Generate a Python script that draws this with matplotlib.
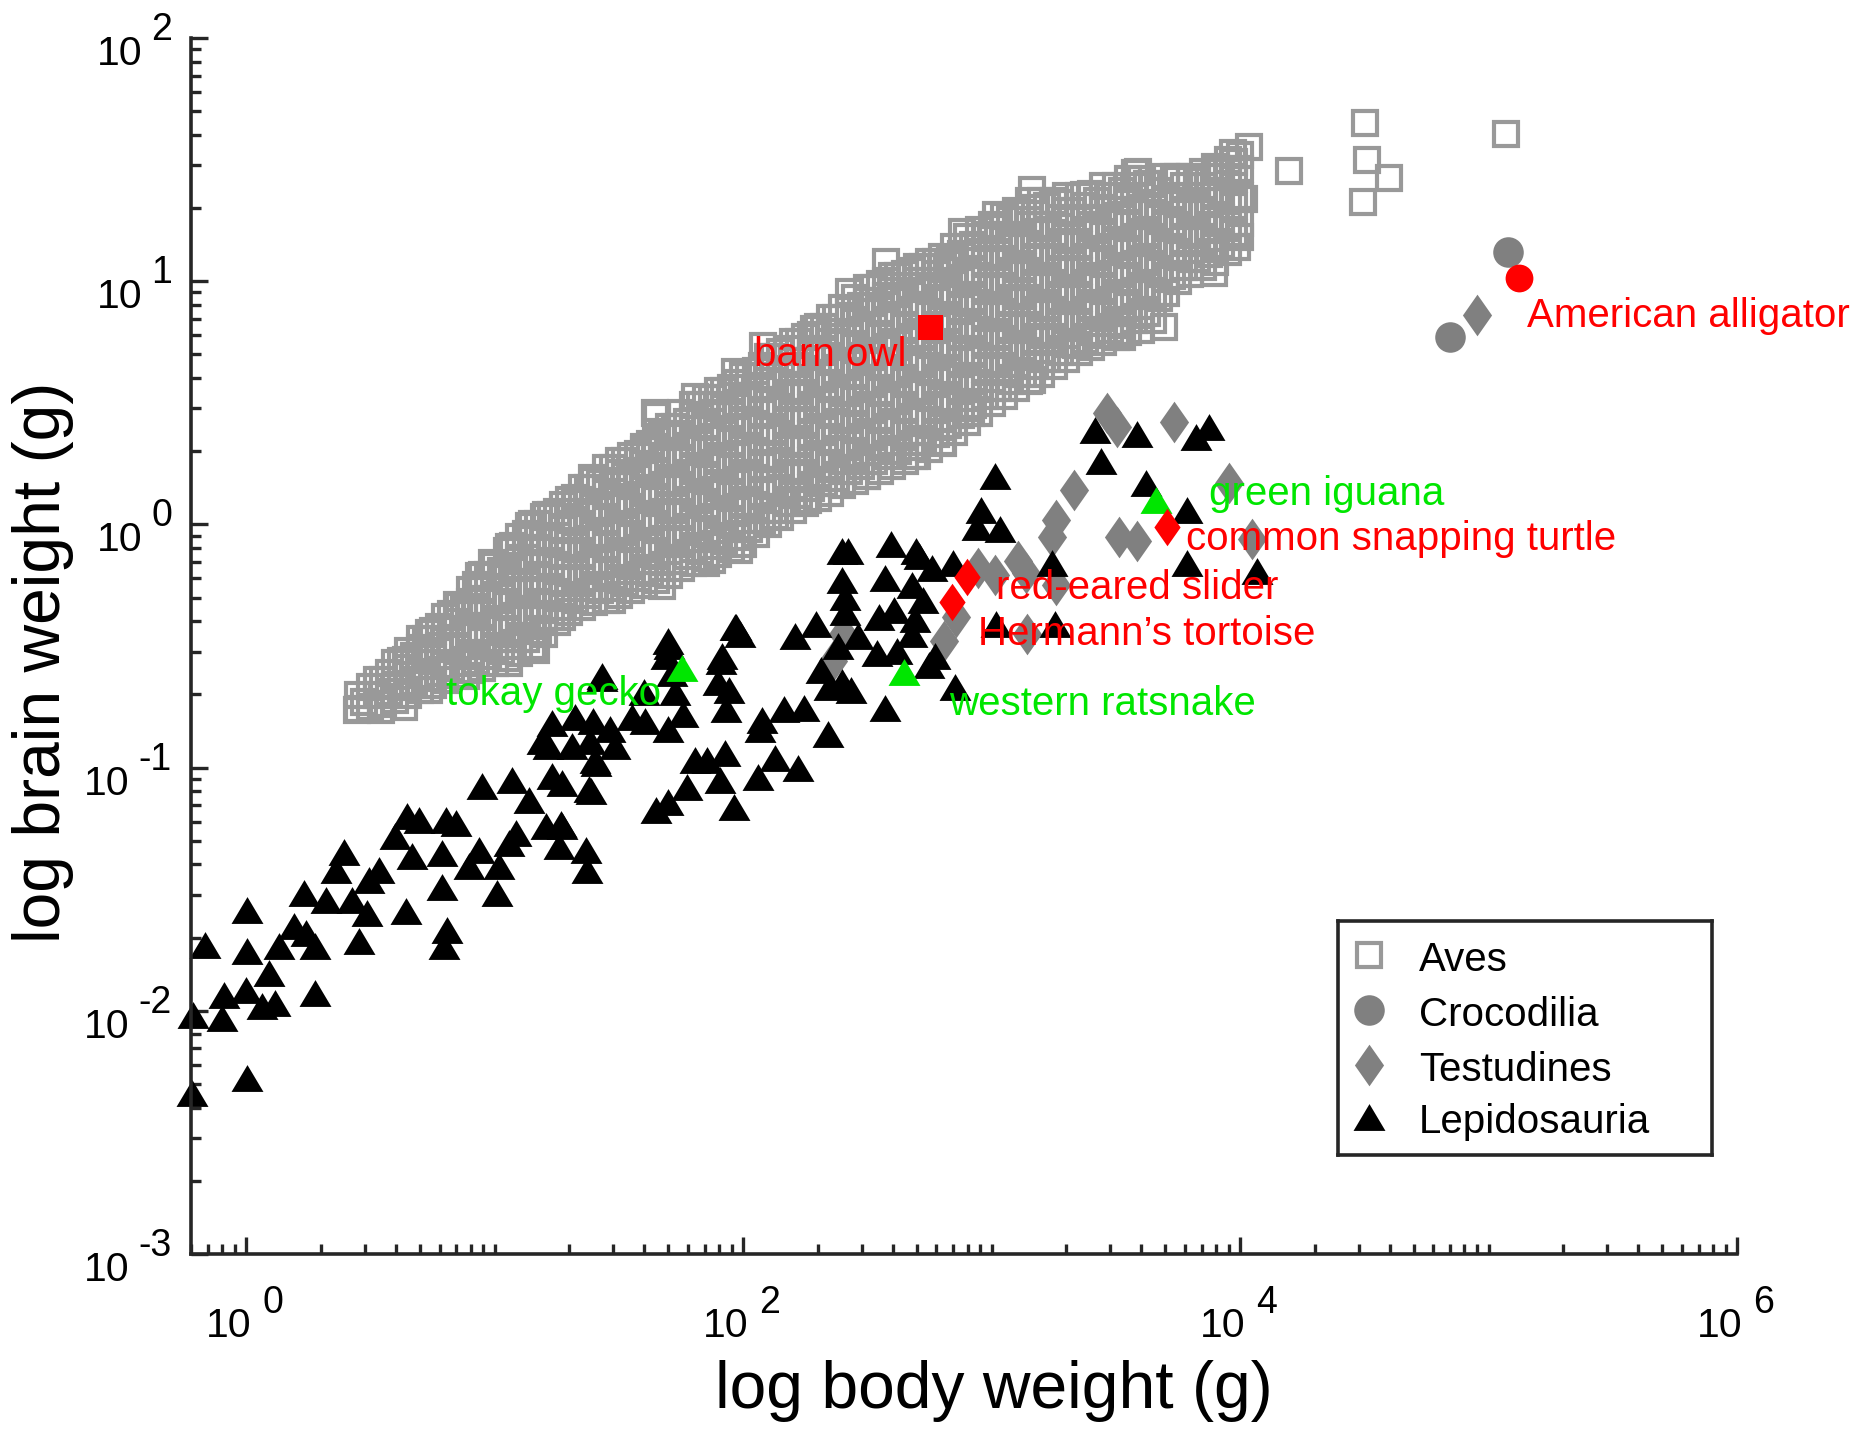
import matplotlib
matplotlib.use("Agg")
import matplotlib.pyplot as plt
import numpy as np
from matplotlib.path import Path
from matplotlib.ticker import FixedLocator, NullFormatter

plt.rcParams["font.family"] = ["Liberation Sans", "DejaVu Sans"]

# All values are log10 of grams.
# Aves: dense band, one entry per body-weight column -> brain weights in that column
aves_band = [
    (0.45, [-0.76, -0.70]), (0.50, [-0.75, -0.67]), (0.55, [-0.74, -0.64]),
    (0.60, [-0.72, -0.66, -0.57]), (0.65, [-0.70, -0.59, -0.52]),
    (0.70, [-0.68, -0.62, -0.51, -0.47]), (0.75, [-0.66, -0.55, -0.44]),
    (0.80, [-0.64, -0.58, -0.47, -0.38]), (0.85, [-0.62, -0.51, -0.40, -0.33]),
    (0.90, [-0.60, -0.54, -0.43, -0.32, -0.27]), (0.95, [-0.59, -0.48, -0.37, -0.26, -0.21]),
    (1.00, [-0.57, -0.51, -0.40, -0.29, -0.17]), (1.05, [-0.55, -0.44, -0.33, -0.22, -0.11]),
    (1.10, [-0.53, -0.47, -0.36, -0.25, -0.14, -0.05]), (1.15, [-0.50, -0.39, -0.28, -0.17, -0.06, 0.00]),
    (1.20, [-0.45, -0.39, -0.28, -0.17, -0.06, 0.03]), (1.25, [-0.40, -0.29, -0.18, -0.07, 0.05]),
    (1.30, [-0.36, -0.30, -0.19, -0.08, 0.03, 0.10]), (1.35, [-0.34, -0.23, -0.12, -0.01, 0.10, 0.15]),
    (1.40, [-0.32, -0.26, -0.15, -0.04, 0.07, 0.18]), (1.45, [-0.31, -0.20, -0.09, 0.02, 0.13, 0.23]),
    (1.50, [-0.29, -0.23, -0.12, -0.01, 0.10, 0.21, 0.26]), (1.55, [-0.27, -0.16, -0.05, 0.06, 0.17, 0.28]),
    (1.60, [-0.25, -0.19, -0.08, 0.03, 0.14, 0.25, 0.32]), (1.65, [-0.23, -0.12, -0.01, 0.10, 0.21, 0.32, 0.38]),
    (1.70, [-0.21, -0.15, -0.04, 0.07, 0.18, 0.29, 0.40]), (1.75, [-0.18, -0.07, 0.04, 0.15, 0.26, 0.37, 0.46]),
    (1.80, [-0.16, -0.10, 0.01, 0.12, 0.23, 0.34, 0.45, 0.49]), (1.85, [-0.14, -0.03, 0.08, 0.19, 0.30, 0.41, 0.52]),
    (1.90, [-0.12, -0.06, 0.05, 0.16, 0.27, 0.38, 0.49, 0.55]), (1.95, [-0.10, 0.01, 0.12, 0.23, 0.34, 0.45, 0.56]),
    (2.00, [-0.08, -0.02, 0.09, 0.20, 0.31, 0.42, 0.53, 0.61]), (2.05, [-0.04, 0.07, 0.18, 0.29, 0.40, 0.51, 0.63]),
    (2.10, [0.00, 0.06, 0.17, 0.28, 0.39, 0.50, 0.61, 0.69]), (2.15, [0.03, 0.14, 0.25, 0.36, 0.47, 0.58, 0.71]),
    (2.20, [0.06, 0.12, 0.23, 0.34, 0.45, 0.56, 0.67, 0.75]), (2.25, [0.09, 0.20, 0.31, 0.42, 0.53, 0.64, 0.77]),
    (2.30, [0.11, 0.17, 0.28, 0.39, 0.50, 0.61, 0.72, 0.81]), (2.35, [0.13, 0.24, 0.35, 0.46, 0.57, 0.68, 0.79, 0.85]),
    (2.40, [0.16, 0.22, 0.33, 0.44, 0.55, 0.66, 0.77, 0.89]), (2.45, [0.18, 0.29, 0.40, 0.51, 0.62, 0.73, 0.84, 0.93]),
    (2.50, [0.20, 0.26, 0.37, 0.48, 0.59, 0.70, 0.81, 0.92, 0.97]), (2.55, [0.22, 0.33, 0.44, 0.55, 0.66, 0.77, 0.88, 0.99]),
    (2.60, [0.24, 0.30, 0.41, 0.52, 0.63, 0.74, 0.85, 0.96, 1.02]), (2.65, [0.26, 0.37, 0.48, 0.59, 0.70, 0.81, 0.92, 1.03]),
    (2.70, [0.28, 0.34, 0.45, 0.56, 0.67, 0.78, 0.89, 1.00, 1.06]), (2.75, [0.31, 0.42, 0.53, 0.64, 0.75, 0.86, 0.97, 1.08]),
    (2.80, [0.34, 0.40, 0.51, 0.62, 0.73, 0.84, 0.95, 1.06, 1.10]), (2.85, [0.38, 0.49, 0.60, 0.71, 0.82, 0.93, 1.04, 1.14]),
    (2.90, [0.42, 0.48, 0.59, 0.70, 0.81, 0.92, 1.03, 1.14, 1.18]), (2.95, [0.46, 0.57, 0.68, 0.79, 0.90, 1.01, 1.12, 1.21]),
    (3.00, [0.50, 0.56, 0.67, 0.78, 0.89, 1.00, 1.11, 1.23]), (3.05, [0.53, 0.64, 0.75, 0.86, 0.97, 1.08, 1.19, 1.27]),
    (3.10, [0.56, 0.62, 0.73, 0.84, 0.95, 1.06, 1.17, 1.29]), (3.15, [0.59, 0.70, 0.81, 0.92, 1.03, 1.14, 1.25, 1.33]),
    (3.20, [0.62, 0.68, 0.79, 0.90, 1.01, 1.12, 1.23, 1.33]), (3.25, [0.65, 0.76, 0.87, 0.98, 1.09, 1.20, 1.33]),
    (3.30, [0.68, 0.74, 0.85, 0.96, 1.07, 1.18, 1.29, 1.35]), (3.35, [0.71, 0.82, 0.93, 1.04, 1.15, 1.26, 1.35]),
    (3.40, [0.73, 0.79, 0.90, 1.01, 1.12, 1.23, 1.36]), (3.45, [0.75, 0.86, 0.97, 1.08, 1.19, 1.30, 1.39]),
    (3.50, [0.77, 0.83, 0.94, 1.05, 1.16, 1.27, 1.39]), (3.55, [0.79, 0.90, 1.01, 1.12, 1.23, 1.34, 1.42]),
    (3.60, [0.80, 0.86, 0.97, 1.08, 1.19, 1.30, 1.42]), (3.65, [0.84, 0.95, 1.06, 1.17, 1.28, 1.40]),
    (3.70, [0.95, 1.01, 1.12, 1.23, 1.34, 1.43]), (3.75, [1.00, 1.11, 1.22, 1.33, 1.43]),
    (3.80, [1.03, 1.09, 1.20, 1.31, 1.43]), (3.85, [1.06, 1.17, 1.28, 1.39, 1.45]),
    (3.90, [1.08, 1.14, 1.25, 1.36, 1.47]), (3.95, [1.12, 1.23, 1.34, 1.45, 1.50]),
    (4.00, [1.18, 1.24, 1.35, 1.46, 1.52]),
]

# Aves: the squares lying in between the columns above
aves_band_between = [
    (0.475, [-0.73]), (0.525, [-0.70, -0.64]), (0.575, [-0.69, -0.61]),
    (0.625, [-0.67, -0.56]), (0.675, [-0.65, -0.54]), (0.725, [-0.63, -0.52, -0.47]),
    (0.775, [-0.61, -0.50, -0.42]), (0.825, [-0.59, -0.48, -0.37]), (0.875, [-0.57, -0.46, -0.35]),
    (0.925, [-0.56, -0.45, -0.34, -0.25]), (0.975, [-0.54, -0.43, -0.32, -0.21]),
    (1.025, [-0.52, -0.41, -0.30, -0.19]), (1.075, [-0.50, -0.39, -0.28, -0.17, -0.09]),
    (1.125, [-0.47, -0.36, -0.25, -0.14, -0.04]), (1.175, [-0.44, -0.33, -0.22, -0.11, 0.00]),
    (1.225, [-0.38, -0.27, -0.16, -0.05, 0.04]), (1.275, [-0.34, -0.23, -0.12, -0.01, 0.08]),
    (1.325, [-0.31, -0.20, -0.09, 0.02, 0.11]), (1.375, [-0.29, -0.18, -0.07, 0.04, 0.15]),
    (1.425, [-0.27, -0.16, -0.05, 0.06, 0.17]), (1.475, [-0.26, -0.15, -0.04, 0.07, 0.18, 0.23]),
    (1.525, [-0.24, -0.13, -0.02, 0.09, 0.20, 0.26]), (1.575, [-0.22, -0.11, 0.00, 0.11, 0.22, 0.29]),
    (1.625, [-0.20, -0.09, 0.02, 0.13, 0.24, 0.33]), (1.675, [-0.18, -0.07, 0.04, 0.15, 0.26, 0.37]),
    (1.725, [-0.15, -0.04, 0.07, 0.18, 0.29, 0.40]), (1.775, [-0.13, -0.02, 0.09, 0.20, 0.31, 0.42]),
    (1.825, [-0.11, 0.00, 0.11, 0.22, 0.33, 0.44, 0.49]), (1.875, [-0.09, 0.02, 0.13, 0.24, 0.35, 0.46, 0.52]),
    (1.925, [-0.07, 0.04, 0.15, 0.26, 0.37, 0.48, 0.55]), (1.975, [-0.05, 0.06, 0.17, 0.28, 0.39, 0.50, 0.58]),
    (2.025, [-0.02, 0.09, 0.20, 0.31, 0.42, 0.53, 0.61]), (2.075, [0.02, 0.13, 0.24, 0.35, 0.46, 0.57, 0.65]),
    (2.125, [0.06, 0.17, 0.28, 0.39, 0.50, 0.61, 0.69]), (2.175, [0.09, 0.20, 0.31, 0.42, 0.53, 0.64, 0.72]),
    (2.225, [0.12, 0.23, 0.34, 0.45, 0.56, 0.67, 0.75]), (2.275, [0.15, 0.26, 0.37, 0.48, 0.59, 0.70, 0.78]),
    (2.325, [0.17, 0.28, 0.39, 0.50, 0.61, 0.72, 0.81]), (2.375, [0.19, 0.30, 0.41, 0.52, 0.63, 0.74, 0.85]),
    (2.425, [0.22, 0.33, 0.44, 0.55, 0.66, 0.77, 0.88]), (2.475, [0.24, 0.35, 0.46, 0.57, 0.68, 0.79, 0.90]),
    (2.525, [0.26, 0.37, 0.48, 0.59, 0.70, 0.81, 0.92, 0.97]), (2.575, [0.28, 0.39, 0.50, 0.61, 0.72, 0.83, 0.94, 1.00]),
    (2.625, [0.30, 0.41, 0.52, 0.63, 0.74, 0.85, 0.96, 1.02]), (2.675, [0.32, 0.43, 0.54, 0.65, 0.76, 0.87, 0.98, 1.04]),
    (2.725, [0.34, 0.45, 0.56, 0.67, 0.78, 0.89, 1.00, 1.06]), (2.775, [0.37, 0.48, 0.59, 0.70, 0.81, 0.92, 1.03, 1.08]),
    (2.825, [0.41, 0.52, 0.63, 0.74, 0.85, 0.96, 1.07]), (2.875, [0.45, 0.56, 0.67, 0.78, 0.89, 1.00, 1.11]),
    (2.925, [0.49, 0.60, 0.71, 0.82, 0.93, 1.04, 1.15]), (2.975, [0.53, 0.64, 0.75, 0.86, 0.97, 1.08, 1.19]),
    (3.025, [0.56, 0.67, 0.78, 0.89, 1.00, 1.11, 1.22]), (3.075, [0.59, 0.70, 0.81, 0.92, 1.03, 1.14, 1.25]),
    (3.125, [0.62, 0.73, 0.84, 0.95, 1.06, 1.17, 1.28]), (3.175, [0.65, 0.76, 0.87, 0.98, 1.09, 1.20, 1.30]),
    (3.225, [0.68, 0.79, 0.90, 1.01, 1.12, 1.23, 1.31]), (3.275, [0.71, 0.82, 0.93, 1.04, 1.15, 1.26, 1.32]),
    (3.325, [0.74, 0.85, 0.96, 1.07, 1.18, 1.29]), (3.375, [0.76, 0.87, 0.98, 1.09, 1.20, 1.31]),
    (3.425, [0.78, 0.89, 1.00, 1.11, 1.22, 1.33]), (3.475, [0.80, 0.91, 1.02, 1.13, 1.24, 1.35]),
    (3.525, [0.82, 0.93, 1.04, 1.15, 1.26, 1.37]), (3.575, [0.84, 0.95, 1.06, 1.17, 1.28, 1.39]),
    (3.625, [0.87, 0.98, 1.09, 1.20, 1.31, 1.40]), (3.675, [0.93, 1.04, 1.15, 1.26, 1.37]),
    (3.725, [1.02, 1.13, 1.24, 1.35]), (3.775, [1.06, 1.17, 1.28, 1.39]),
    (3.825, [1.09, 1.20, 1.31, 1.41]), (3.875, [1.11, 1.22, 1.33, 1.43]),
    (3.925, [1.15, 1.26, 1.37, 1.46]), (3.975, [1.20, 1.31, 1.42, 1.49]),
]

# Aves: scattered squares on the edges of the band and the large birds
aves_edge = [
    (1.655, 0.444), (1.601, 0.306), (1.393, 0.190), (1.326, 0.087), (1.205, 0.039),
    (1.138, -0.008), (1.058, -0.091), (0.991, -0.160), (0.937, -0.214), (0.856, -0.337),
    (0.736, -0.447), (0.642, -0.557), (0.447, -0.763), (0.541, -0.763), (0.635, -0.749),
    (1.984, -0.105), (1.850, -0.160), (1.675, -0.255), (1.474, -0.310), (1.273, -0.379),
    (1.165, -0.516), (1.058, -0.571), (0.883, -0.625), (0.736, -0.680), (1.876, -0.146),
    (3.591, 1.450), (3.736, 1.430), (3.163, 1.376), (3.370, 1.356), (3.019, 1.273),
    (2.880, 1.204), (2.577, 1.077), (2.832, 1.087), (2.428, 0.954), (2.284, 0.802),
    (2.082, 0.733), (1.966, 0.625), (1.808, 0.522), (1.644, 0.458), (3.692, 0.811),
    (3.519, 0.787), (3.163, 0.594), (2.918, 0.458), (2.803, 0.335), (2.688, 0.281),
    (2.500, 0.197), (2.260, 0.099), (2.130, 0.035), (4.034, 1.553), (3.971, 1.528),
    (3.909, 1.460), (3.577, 1.445), (3.740, 1.415), (4.014, 1.337), (3.986, 1.140),
    (3.894, 1.140), (3.894, 1.033), (3.341, 0.738), (3.524, 0.772), (4.197, 1.455),
    (4.503, 1.651), (4.510, 1.499), (4.601, 1.425), (4.495, 1.327), (5.072, 1.607),
]

crocodilia = [(5.077, 1.12), (4.846, 0.77)]

testudines = [
    (3.466, 0.46), (3.505, 0.40), (3.736, 0.42), (3.332, 0.14), (3.260, 0.02),
    (3.245, -0.05), (3.106, -0.15), (3.012, -0.21), (2.945, -0.18), (3.260, -0.25),
    (3.144, -0.45), (2.856, -0.38), (2.808, -0.48), (3.514, -0.05), (3.587, -0.07),
    (3.957, 0.17), (4.048, -0.06), (3.139, -0.20), (2.404, -0.45), (2.361, -0.56),
    (4.952, 0.86),
]

lepidosauria = [
    (-0.217, -2.338), (0.002, -2.277), (-0.214, -2.016), (-0.166, -1.728), (0.002, -1.584),
    (0.002, -1.756), (-0.089, -1.934), (-0.096, -2.030), (-0.002, -1.914), (0.065, -1.982),
    (0.118, -1.968), (0.092, -1.845), (0.279, -1.927), (0.132, -1.735), (0.192, -1.653),
    (0.239, -1.680), (0.279, -1.735), (0.233, -1.516), (0.394, -1.345), (0.360, -1.420),
    (0.320, -1.543), (0.454, -1.715), (0.427, -1.543), (0.494, -1.461), (0.535, -1.420),
    (0.488, -1.598), (0.642, -1.591), (0.649, -1.200), (0.696, -1.214), (0.601, -1.283),
    (0.669, -1.365), (0.789, -1.489), (0.810, -1.667), (0.796, -1.735), (0.803, -1.214),
    (0.843, -1.228), (0.789, -1.351), (0.897, -1.406), (0.950, -1.077), (1.017, -1.406),
    (1.011, -1.516), (0.937, -1.338), (1.058, -1.310), (1.085, -1.269), (1.138, -1.132),
    (1.232, -1.036), (1.205, -1.242), (1.273, -1.242), (1.259, -1.324), (1.366, -1.338),
    (1.373, -1.420), (1.387, -1.098), (1.407, -0.981), (1.648, -1.173), (1.071, -1.050),
    (1.273, -1.063),
    (1.434, -0.625), (1.702, -0.502), (1.970, -0.420), (1.916, -0.543), (1.715, -0.612),
    (1.943, -0.680), (2.077, -0.804), (1.232, -0.817), (1.322, -0.79), (1.385, -0.89),
    (1.216, -0.91), (1.192, -0.89), (1.466, -0.84), (1.553, -0.79), (1.601, -0.69),
    (2.399, -0.11), (2.423, -0.11), (2.596, -0.08), (2.697, -0.11), (2.760, -0.18),
    (2.846, -0.16), (2.942, -0.01), (3.034, -0.02), (2.399, -0.23), (2.409, -0.30),
    (2.572, -0.22), (2.678, -0.25), (2.726, -0.31), (2.409, -0.36), (3.245, -0.16),
    (3.019, -0.41), (3.255, -0.41), (2.207, -0.46), (2.293, -0.41), (2.548, -0.38),
    (2.606, -0.35), (2.678, -0.45), (2.380, -0.50), (2.462, -0.46), (2.538, -0.53),
    (2.620, -0.52), (2.750, -0.58), (2.851, -0.67), (2.572, -0.755), (2.313, -0.60),
    (2.346, -0.67), (2.399, -0.65), (2.433, -0.68), (1.697, -0.48), (1.688, -0.54),
    (1.966, -0.42), (1.986, -0.45), (1.913, -0.56), (1.899, -0.65), (1.933, -0.76),
    (1.726, -0.69), (1.697, -0.84), (1.760, -0.78), (1.606, -0.81), (1.433, -0.63),
    (1.394, -0.81), (1.313, -0.91), (1.486, -0.91), (1.404, -0.97), (1.380, -1.09),
    (1.269, -1.23), (2.163, -0.76), (2.245, -0.755), (2.067, -0.84), (2.341, -0.86),
    (2.130, -0.96), (2.221, -1.00), (2.058, -1.04), (1.808, -0.97), (1.856, -0.97),
    (1.928, -0.94), (1.774, -1.08), (1.697, -1.14), (1.909, -1.05), (1.962, -1.16),
    (3.418, 0.39), (3.587, 0.37), (3.822, 0.36), (3.875, 0.40), (3.442, 0.26),
    (3.014, 0.20), (3.620, 0.17), (3.788, 0.06), (2.957, 0.06), (3.788, -0.16),
    (4.067, -0.19), (2.707, -0.13), (2.692, -0.39), (2.774, -0.54),
]

# highlighted species
highlight_names = ["barn owl", "American alligator", "green iguana", "common snapping turtle",
                   "red-eared slider", "Hermann\u2019s tortoise", "tokay gecko", "western ratsnake"]
highlight_groups = ["Aves", "Crocodilia", "Lepidosauria", "Testudines",
                    "Testudines", "Testudines", "Lepidosauria", "Lepidosauria"]
highlight_log_body = [2.752, 5.123, 3.662, 3.706, 2.901, 2.840, 1.754, 2.647]
highlight_log_brain = [0.812, 1.014, 0.101, -0.010, -0.215, -0.318, -0.589, -0.606]

legend_labels = ["Aves", "Crocodilia", "Testudines", "Lepidosauria"]

W, H = 1873, 1431
AXIS_COLOR = "#262626"
RED = "#ff0000"
GREEN = "#00e600"

TRI = Path([(0, 0.42), (-0.5, -0.42), (0.5, -0.42), (0, 0.42)],
           [Path.MOVETO, Path.LINETO, Path.LINETO, Path.CLOSEPOLY])
DIA = Path([(0, 0.5), (0.35, 0), (0, -0.5), (-0.35, 0), (0, 0.5)],
           [Path.MOVETO, Path.LINETO, Path.LINETO, Path.LINETO, Path.CLOSEPOLY])

styles = {
    "Aves": dict(marker="s", ms=17.5, mfc="none", mec="#999999", mew=3.0),
    "Crocodilia": dict(marker="o", ms=22, mfc="#808080", mec="none", mew=0),
    "Testudines": dict(marker=DIA, ms=30, mfc="#808080", mec="none", mew=0),
    "Lepidosauria": dict(marker=TRI, ms=23, mfc="black", mec="none", mew=0),
}
hl_styles = {
    "Aves": dict(marker="s", ms=18, mfc=RED, mec="none", mew=0),
    "Crocodilia": dict(marker="o", ms=20, mfc=RED, mec="none", mew=0),
    "Testudines": dict(marker=DIA, ms=27, mfc=RED, mec="none", mew=0),
    "Lepidosauria": dict(marker=TRI, ms=23, mfc=GREEN, mec="none", mew=0),
}
# text offsets in pixels from the point: (dx, dy, ha)
label_offsets = {
    "barn owl": (-23, -39, "right"),
    "American alligator": (8, -49, "left"),
    "green iguana": (53, -5, "left"),
    "common snapping turtle": (19, -23, "left"),
    "red-eared slider": (29, -22, "left"),
    "Hermann\u2019s tortoise": (26, -43, "left"),
    "tokay gecko": (-21, -37, "right"),
    "western ratsnake": (45, -43, "left"),
}


def unpack(pairs):
    xs = np.array([p[0] for p in pairs])
    ys = np.array([p[1] for p in pairs])
    return 10.0 ** xs, 10.0 ** ys


fig = plt.figure(figsize=(W / 100, H / 100), dpi=100)
ax = fig.add_axes([191 / W, 1 - 1254 / H, (1737 - 191) / W, (1254 - 38) / H])

aves_pairs = ([(bx, by) for bx, ys in aves_band for by in ys]
              + [(bx, by) for bx, ys in aves_band_between for by in ys]
              + aves_edge)
series = [("Aves", aves_pairs), ("Crocodilia", crocodilia),
          ("Testudines", testudines), ("Lepidosauria", lepidosauria)]
for name, pairs in series:
    bx, by = unpack(pairs)
    ax.plot(bx, by, linestyle="none", clip_on=False, **styles[name])

for name, grp, lb, lbr in zip(highlight_names, highlight_groups,
                              highlight_log_body, highlight_log_brain):
    x, y = 10.0 ** lb, 10.0 ** lbr
    ax.plot([x], [y], linestyle="none", clip_on=False, zorder=4, **hl_styles[grp])
    dx, dy, ha = label_offsets[name]
    ax.annotate(name, xy=(x, y), xytext=(dx, dy), textcoords="offset pixels",
                ha=ha, va="baseline", fontsize=29,
                color=GREEN if grp == "Lepidosauria" else RED, zorder=5)

ax.set_xscale("log")
ax.set_yscale("log")
ax.set_xlim(10 ** -0.222, 1e6)
ax.set_ylim(1e-3, 1e2)

x_major = [1e0, 1e2, 1e4, 1e6]
x_minor = [m * 10.0 ** n for n in range(-1, 6) for m in range(1, 10)
           if 10 ** -0.222 <= m * 10.0 ** n <= 1e6 and m * 10.0 ** n not in x_major]
y_major = [10.0 ** k for k in range(-3, 3)]
y_minor = [m * 10.0 ** n for n in range(-3, 2) for m in range(2, 10)]
ax.xaxis.set_major_locator(FixedLocator(x_major))
ax.xaxis.set_minor_locator(FixedLocator(x_minor))
ax.yaxis.set_major_locator(FixedLocator(y_major))
ax.yaxis.set_minor_locator(FixedLocator(y_minor))
for axis in (ax.xaxis, ax.yaxis):
    axis.set_major_formatter(NullFormatter())
    axis.set_minor_formatter(NullFormatter())

ax.tick_params(which="major", direction="in", length=12.5, width=2.4, color=AXIS_COLOR)
ax.tick_params(which="minor", direction="in", length=7, width=2.4, color=AXIS_COLOR)
for side in ("top", "right"):
    ax.spines[side].set_visible(False)
for side in ("left", "bottom"):
    ax.spines[side].set_linewidth(2.6)
    ax.spines[side].set_color(AXIS_COLOR)

# MATLAB-style "10 ^k" tick labels
renderer = fig.canvas.get_renderer()
for k in (0, 2, 4, 6):
    ax.annotate("10", xy=(10.0 ** k, 0), xycoords=ax.get_xaxis_transform(),
                xytext=(5, -83), textcoords="offset pixels", ha="right", va="baseline",
                fontsize=29.5, annotation_clip=False)
    ax.annotate(str(k), xy=(10.0 ** k, 0), xycoords=ax.get_xaxis_transform(),
                xytext=(16, -59), textcoords="offset pixels", ha="left", va="baseline",
                fontsize=27, annotation_clip=False)
for k in range(-3, 3):
    ex = ax.annotate(str(k), xy=(0, 10.0 ** k), xycoords=ax.get_yaxis_transform(),
                     xytext=(-19, -2), textcoords="offset pixels", ha="right", va="baseline",
                     fontsize=27, annotation_clip=False)
    w = ex.get_window_extent(renderer).width
    ax.annotate("10", xy=(0, 10.0 ** k), xycoords=ax.get_yaxis_transform(),
                xytext=(-19 - w - 9, -27), textcoords="offset pixels", ha="right",
                va="baseline", fontsize=29.5, annotation_clip=False)

fig.text(715 / W, 1 - 1408 / H, "log body weight (g)", fontsize=47.5,
         ha="left", va="baseline")
fig.text(60 / W, 1 - 662 / H, "log brain weight (g)", fontsize=47.5, rotation=90,
         rotation_mode="anchor", ha="center", va="baseline")

# legend box
lx0, ly0, lw, lh = 1338, 921, 374, 234
lax = fig.add_axes([lx0 / W, 1 - (ly0 + lh) / H, lw / W, lh / H])
lax.set_xlim(0, lw)
lax.set_ylim(lh, 0)
lax.set_xticks([])
lax.set_yticks([])
for sp in lax.spines.values():
    sp.set_linewidth(2.6)
    sp.set_color(AXIS_COLOR)
for row_y, label in zip([34, 89, 144, 196], legend_labels):
    lax.plot([31], [row_y], linestyle="none", clip_on=False, **styles[label])
    lax.text(81, row_y + 16, label, fontsize=29, ha="left", va="baseline")

fig.savefig("out.png", dpi=100)
